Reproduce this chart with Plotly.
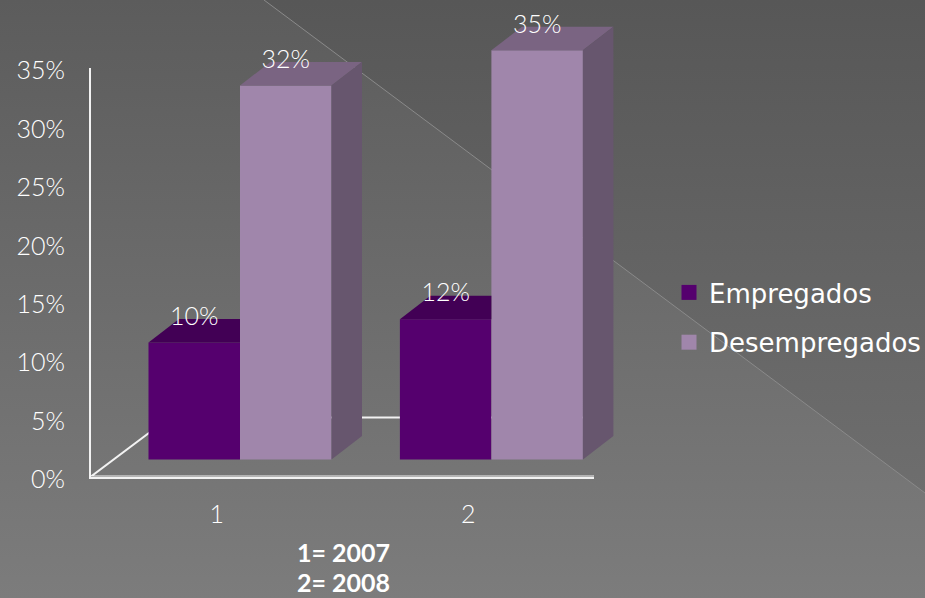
import plotly.graph_objects as go

categories = ["1", "2"]
empregados = [10, 12]
desempregados = [32, 35]
y_ticks = [0, 5, 10, 15, 20, 25, 30, 35]
y_tick_labels = ["0%", "5%", "10%", "15%", "20%", "25%", "30%", "35%"]
series_names = ["Empregados", "Desempregados"]
note_lines = ["1= 2007", "2= 2008"]

W, H = 925, 598
FONT = "Lato Light, Lato"
FONT_LEG = "DejaVu Sans ExtraLight, DejaVu Sans"
C_DARK, C_DARK_TOP = "#55006E", "#420055"
C_LIGHT, C_LIGHT_TOP, C_LIGHT_SIDE = "#A086AB", "#7A6482", "#67566E"

# pixel layout of the scales
PX_PER_PCT = 11.69
PX_PER_CAT = 251.4
BAR_ZERO_PX = 459.5
CAT1_PX = 240.0
DEPTH_X = 30.5 / PX_PER_CAT
DEPTH_Y = 23.5 / PX_PER_PCT
BAR_W = 91.5 / PX_PER_CAT
LABEL_UP = 24.0 / PX_PER_PCT

fig = go.Figure()

# page background (pixel-space subplot x/y)
fig.add_trace(go.Scatter(x=[0, W, W, 0, 0], y=[0, 0, H, H, 0], mode="none", fill="toself",
                         fillgradient=dict(type="vertical", start=0, stop=H,
                                           colorscale=[[0, "#5C5C5C"], [1, "#7C7C7C"]]),
                         hoverinfo="skip", showlegend=False))
fig.add_trace(go.Scatter(x=[264, W, W, 264], y=[0, 0, 493, 0], mode="none", fill="toself",
                         fillgradient=dict(type="vertical", start=0, stop=493,
                                           colorscale=[[0, "#575757"], [1, "#6E6E6E"]]),
                         hoverinfo="skip", showlegend=False))
fig.add_trace(go.Scatter(x=[264, W], y=[0, 493], mode="lines", line=dict(color="#8A8A8A", width=1),
                         hoverinfo="skip", showlegend=False))

# floor of the 3-D box, on the real axes (x2/y2)
fx = 78.5 / PX_PER_CAT
fy = 59.0 / PX_PER_PCT
fig.add_trace(go.Scatter(x=[0, 2, 2 + fx, fx, 0], y=[0, 0, fy, fy, 0], xaxis="x2", yaxis="y2",
                         mode="lines", line=dict(color="#F2F2F2", width=2), cliponaxis=False,
                         hoverinfo="skip", showlegend=False))

# bars (x3/y3: shifted depth plane)
cat_pos = [i + 1 for i in range(len(categories))]
fig.add_trace(go.Bar(x=cat_pos, y=empregados, name=series_names[0], marker=dict(color=C_DARK, line_width=0),
                     xaxis="x3", yaxis="y3", showlegend=False, legendgroup="a"))
fig.add_trace(go.Bar(x=cat_pos, y=desempregados, name=series_names[1], marker=dict(color=C_LIGHT, line_width=0),
                     xaxis="x3", yaxis="y3", showlegend=False, legendgroup="b"))

# 3-D faces derived from the values
for c, v in zip(cat_pos, empregados):
    x0, x1 = c - BAR_W, c
    fig.add_trace(go.Scatter(x=[x0, x1, x1, x0 + DEPTH_X, x0], y=[v, v, v + DEPTH_Y, v + DEPTH_Y, v],
                             xaxis="x3", yaxis="y3", mode="none", fill="toself", fillcolor=C_DARK_TOP,
                             cliponaxis=False, hoverinfo="skip", showlegend=False))
for c, v in zip(cat_pos, desempregados):
    x0, x1 = c, c + BAR_W
    fig.add_trace(go.Scatter(x=[x0, x1, x1 + DEPTH_X, x0 + DEPTH_X, x0],
                             y=[v, v, v + DEPTH_Y, v + DEPTH_Y, v],
                             xaxis="x3", yaxis="y3", mode="none", fill="toself", fillcolor=C_LIGHT_TOP,
                             cliponaxis=False, hoverinfo="skip", showlegend=False))
    fig.add_trace(go.Scatter(x=[x1, x1 + DEPTH_X, x1 + DEPTH_X, x1, x1],
                             y=[0, DEPTH_Y, v + DEPTH_Y, v, 0],
                             xaxis="x3", yaxis="y3", mode="none", fill="toself", fillcolor=C_LIGHT_SIDE,
                             cliponaxis=False, hoverinfo="skip", showlegend=False))

# value labels
lab_x = [c - BAR_W / 2 for c in cat_pos] + [c + BAR_W / 2 for c in cat_pos]
lab_v = empregados + desempregados
fig.add_trace(go.Scatter(x=lab_x, y=[v + LABEL_UP for v in lab_v], text=[f"{v}%" for v in lab_v],
                         mode="text", textposition="middle center", xaxis="x3", yaxis="y3",
                         textfont=dict(family=FONT, size=25, color="white"), cliponaxis=False,
                         hoverinfo="skip", showlegend=False))

# legend keys
for name, col, grp in zip(series_names, [C_DARK, C_LIGHT], ["a", "b"]):
    fig.add_trace(go.Scatter(x=[None], y=[None], name=name, mode="markers", xaxis="x3", yaxis="y3",
                             legendgroup=grp, marker=dict(symbol="square", size=15, color=col)))

fig.update_layout(
    width=W, height=H, autosize=False,
    margin=dict(l=0, r=0, t=0, b=0, autoexpand=False),
    paper_bgcolor="#666666", plot_bgcolor="rgba(0,0,0,0)",
    barmode="group", bargap=1 - 2 * BAR_W, bargroupgap=0,
    font=dict(family=FONT, color="white"),
    xaxis=dict(domain=[0, 1], range=[0, W], visible=False, fixedrange=True),
    yaxis=dict(domain=[0, 1], range=[H, 0], visible=False, fixedrange=True),
    xaxis2=dict(domain=[91 / W, 594 / W], range=[0, 2], anchor="y2",
                tickvals=[0.5, 1.5], ticktext=categories, showgrid=False, zeroline=False,
                showline=True, linecolor="#F2F2F2", linewidth=2,
                ticks="outside", ticklen=14, tickcolor="rgba(0,0,0,0)",
                tickfont=dict(family=FONT, size=25, color="white"), fixedrange=True),
    yaxis2=dict(domain=[(H - 476.5) / H, (H - 67.5) / H], range=[0, 35], anchor="x2",
                tickvals=y_ticks, ticktext=y_tick_labels, showgrid=False, zeroline=False,
                showline=True, linecolor="#F2F2F2", linewidth=2,
                ticks="outside", ticklen=19, tickcolor="rgba(0,0,0,0)", ticklabelshift=3,
                tickfont=dict(family=FONT, size=25, color="white"), fixedrange=True),
    xaxis3=dict(domain=[0, 1], anchor="y3", visible=False, fixedrange=True,
                range=[1 - CAT1_PX / PX_PER_CAT, 1 + (W - CAT1_PX) / PX_PER_CAT]),
    yaxis3=dict(domain=[0, 1], anchor="x3", visible=False, fixedrange=True,
                range=[-(H - BAR_ZERO_PX) / PX_PER_PCT, BAR_ZERO_PX / PX_PER_PCT]),
    legend=dict(x=669 / W, y=(H - 269) / H, xanchor="left", yanchor="top", bgcolor="rgba(0,0,0,0)",
                font=dict(family=FONT_LEG, size=26, color="white"), tracegroupgap=13,
                traceorder="grouped", itemclick=False, itemdoubleclick=False),
    annotations=[
        dict(text=f"<b>{note_lines[0]}</b>", x=343 / W, y=(H - 552) / H, xref="paper", yref="paper",
             xanchor="center", yanchor="middle", showarrow=False, borderpad=0,
             font=dict(family="Lato", size=25, color="white")),
        dict(text=f"<b>{note_lines[1]}</b>", x=343 / W, y=(H - 582) / H, xref="paper", yref="paper",
             xanchor="center", yanchor="middle", showarrow=False, borderpad=0,
             font=dict(family="Lato", size=25, color="white")),
    ],
)

fig.write_html("out.html", config={"displayModeBar": False},
               post_script="document.body.style.margin='0';document.body.style.overflow='hidden';")
